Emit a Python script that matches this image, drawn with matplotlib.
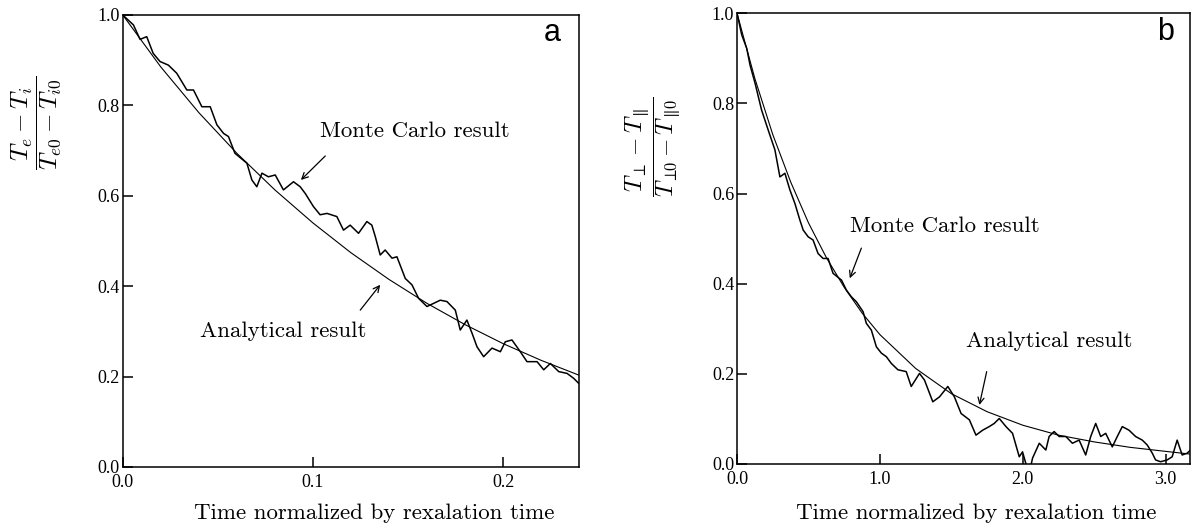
import matplotlib.pyplot as plt

plt.rcParams['mathtext.fontset'] = 'cm'
plt.rcParams['font.family'] = ['Liberation Serif', 'DejaVu Serif']

# panel a : electron-ion temperature relaxation
t_mc_a = [0.0, 0.001, 0.0056, 0.0091, 0.0126, 0.016, 0.0196, 0.024, 0.0284, 0.0337,
          0.0372, 0.0416, 0.046, 0.0495, 0.053, 0.0556, 0.059, 0.0653, 0.0679, 0.0705,
          0.0732, 0.0766, 0.0802, 0.0845, 0.0898, 0.0933, 0.096, 0.1003, 0.1038, 0.1074,
          0.1126, 0.1161, 0.1196, 0.124, 0.1284, 0.131, 0.1328, 0.1354, 0.138, 0.1416,
          0.1442, 0.1486, 0.1521, 0.1556, 0.16, 0.1635, 0.167, 0.1705, 0.1749, 0.1775,
          0.181, 0.1837, 0.1863, 0.1898, 0.1942, 0.1986, 0.2012, 0.2047, 0.2091, 0.2126,
          0.2179, 0.2214, 0.2249, 0.2293, 0.2337, 0.2372, 0.2398]
v_mc_a = [1.0, 0.996, 0.978, 0.946, 0.952, 0.915, 0.897, 0.889, 0.871, 0.834,
          0.834, 0.797, 0.797, 0.757, 0.738, 0.731, 0.694, 0.672, 0.635, 0.620,
          0.650, 0.642, 0.646, 0.613, 0.631, 0.620, 0.605, 0.576, 0.558, 0.561,
          0.554, 0.524, 0.535, 0.517, 0.543, 0.535, 0.510, 0.469, 0.480, 0.462,
          0.465, 0.417, 0.403, 0.373, 0.355, 0.362, 0.369, 0.366, 0.347, 0.303,
          0.325, 0.296, 0.266, 0.244, 0.263, 0.255, 0.277, 0.281, 0.255, 0.233,
          0.233, 0.215, 0.229, 0.211, 0.207, 0.196, 0.185]
t_an_a = [0.0, 0.02, 0.04, 0.06, 0.08, 0.10, 0.12, 0.14, 0.16, 0.18, 0.20, 0.22, 0.24]
v_an_a = [1.0, 0.885, 0.784, 0.694, 0.613, 0.540, 0.474, 0.415, 0.362, 0.315, 0.273, 0.236, 0.203]

# panel b : perpendicular-parallel temperature relaxation
t_mc_b = [0.0, 0.033, 0.068, 0.091, 0.126, 0.172, 0.218, 0.265, 0.300, 0.335,
          0.370, 0.405, 0.440, 0.463, 0.498, 0.532, 0.567, 0.602, 0.637, 0.672,
          0.731, 0.765, 0.800, 0.835, 0.882, 0.905, 0.940, 0.975, 1.010, 1.045,
          1.080, 1.126, 1.184, 1.219, 1.277, 1.312, 1.370, 1.417, 1.475, 1.521,
          1.568, 1.626, 1.672, 1.719, 1.765, 1.800, 1.835, 1.882, 1.928, 1.975,
          1.998, 2.022, 2.045, 2.068, 2.115, 2.161, 2.184, 2.219, 2.254, 2.301,
          2.347, 2.394, 2.440, 2.475, 2.510, 2.545, 2.580, 2.626, 2.661, 2.696,
          2.743, 2.789, 2.836, 2.871, 2.906, 2.929, 2.964, 3.010, 3.045, 3.080,
          3.115, 3.150, 3.17]
v_mc_b = [1.0, 0.952, 0.922, 0.885, 0.845, 0.785, 0.741, 0.697, 0.637, 0.645,
          0.608, 0.578, 0.541, 0.519, 0.504, 0.497, 0.467, 0.456, 0.456, 0.423,
          0.408, 0.386, 0.371, 0.360, 0.338, 0.312, 0.297, 0.260, 0.246, 0.238,
          0.223, 0.209, 0.205, 0.172, 0.201, 0.186, 0.138, 0.149, 0.172, 0.149,
          0.112, 0.098, 0.064, 0.075, 0.083, 0.090, 0.101, 0.083, 0.068, 0.016,
          0.027, 0.0, -0.02, 0.013, 0.046, 0.031, 0.061, 0.072, 0.061, 0.061,
          0.046, 0.053, 0.020, 0.061, 0.090, 0.061, 0.068, 0.038, 0.061, 0.083,
          0.075, 0.061, 0.053, 0.042, 0.024, 0.009, 0.005, 0.009, 0.016, 0.053,
          0.020, 0.024, 0.030]
t_an_b = [0.0, 0.125, 0.25, 0.375, 0.5, 0.625, 0.75, 0.875, 1.0, 1.25, 1.5,
          1.75, 2.0, 2.25, 2.5, 2.75, 3.0, 3.17]
v_an_b = [1.0, 0.855, 0.731, 0.626, 0.535, 0.458, 0.392, 0.335, 0.287, 0.212, 0.156,
          0.116, 0.086, 0.064, 0.049, 0.037, 0.028, 0.022]

ticks_y = [0.0, 0.2, 0.4, 0.6, 0.8, 1.0]
labels_y = ['0.0', '0.2', '0.4', '0.6', '0.8', '1.0']
ticks_xa = [0.0, 0.1, 0.2]
labels_xa = ['0.0', '0.1', '0.2']
ticks_xb = [0.0, 1.0, 2.0, 3.0]
labels_xb = ['0.0', '1.0', '2.0', '3.0']

xlabel = 'Time normalized by rexalation time'
ylabel_a = r'$\dfrac{T_e - T_i}{T_{e0} - T_{i0}}$'
ylabel_b = r'$\dfrac{T_\perp - T_\parallel}{T_{\perp\!\!0} - T_{\parallel\!0}}$'

cm_font = dict(family='cmr10', size=16.5)
arrow = dict(arrowstyle='->', lw=0.9, color='black', shrinkA=0, shrinkB=0, mutation_scale=11)


def style_axes(ax, xmax, xticks, xlabels):
    ax.set_xlim(0, xmax)
    ax.set_ylim(0, 1)
    ax.set_xticks(xticks, xlabels)
    ax.set_yticks(ticks_y, labels_y)
    ax.tick_params(direction='in', length=7.5, width=1.1, labelsize=13, top=False, right=False)
    ax.tick_params(axis='x', pad=5)
    ax.tick_params(axis='y', pad=2)
    for s in ax.spines.values():
        s.set_linewidth(1.1)


fig = plt.figure(figsize=(11.93, 5.25), dpi=100)
ax_a = fig.add_axes([0.1029, 0.1105, 0.3825, 0.861])
ax_b = fig.add_axes([0.6178, 0.1162, 0.3797, 0.8585])

# left panel
ax_a.plot(t_mc_a, v_mc_a, color='black', lw=1.1)
ax_a.plot(t_an_a, v_an_a, color='black', lw=0.8)
style_axes(ax_a, 0.24, ticks_xa, labels_xa)
ax_a.text(0.1035, 0.730, 'Monte Carlo result', **cm_font)
ax_a.text(0.0407, 0.288, 'Analytical result', **cm_font)
ax_a.annotate('', xy=(0.0937, 0.635), xytext=(0.1065, 0.688), arrowprops=arrow)
ax_a.annotate('', xy=(0.1354, 0.403), xytext=(0.1249, 0.347), arrowprops=arrow)
ax_a.text(0.226, 0.96, 'a', family='Liberation Sans', size=22, ha='center', va='center')
ax_a.text(0.551, -0.102, xlabel, transform=ax_a.transAxes, ha='center', va='center', **cm_font)
ax_a.text(-0.19, 0.761, ylabel_a, transform=ax_a.transAxes, ha='center', va='center',
          rotation=90, size=18)

# right panel
ax_b.plot(t_mc_b, v_mc_b, color='black', lw=1.1)
ax_b.plot(t_an_b, v_an_b, color='black', lw=0.8)
style_axes(ax_b, 3.17, ticks_xb, labels_xb)
ax_b.text(0.789, 0.515, 'Monte Carlo result', **cm_font)
ax_b.text(1.605, 0.260, 'Analytical result', **cm_font)
ax_b.annotate('', xy=(0.789, 0.412), xytext=(0.870, 0.479), arrowprops=arrow)
ax_b.annotate('', xy=(1.696, 0.131), xytext=(1.747, 0.205), arrowprops=arrow)
ax_b.text(3.0, 0.958, 'b', family='Liberation Sans', size=22, ha='center', va='center')
ax_b.text(0.528, -0.109, xlabel, transform=ax_b.transAxes, ha='center', va='center', **cm_font)
ax_b.text(-0.185, 0.703, ylabel_b, transform=ax_b.transAxes, ha='center', va='center',
          rotation=90, size=17)

fig.savefig('out.png', dpi=100)
